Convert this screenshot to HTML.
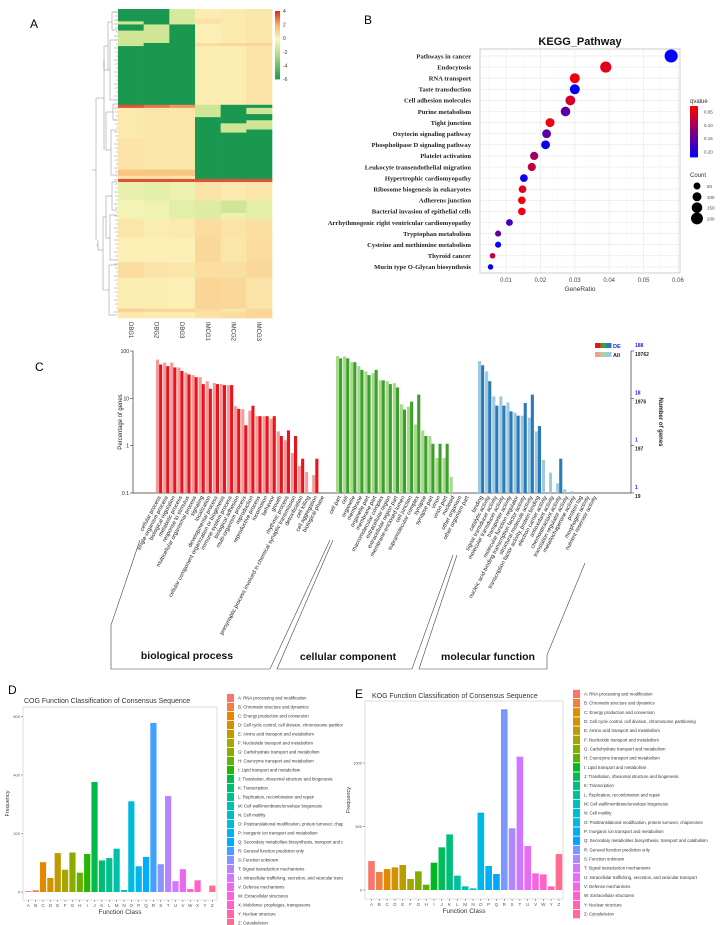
<!DOCTYPE html>
<html><head><meta charset="utf-8">
<style>
html,body{margin:0;padding:0;background:#fff;}
svg{display:block;font-family:"Liberation Sans",sans-serif;}
</style></head>
<body>
<svg id="fig" width="726" height="925" viewBox="0 0 726 925" xmlns="http://www.w3.org/2000/svg">
<rect x="0" y="0" width="726" height="925" fill="#fff"/>
<text x="30" y="28" font-size="12">A</text>
<text x="364" y="24" font-size="12">B</text>
<text x="35" y="371" font-size="12">C</text>
<text x="8" y="694" font-size="12">D</text>
<text x="355" y="698" font-size="12">E</text>
<g id="gA"></g>
<g id="gB"></g>
<g id="gC"></g>
<g id="gD"></g>
<g id="gE"></g>
<defs>
<clipPath id="clipD"><rect x="0" y="680" width="343" height="245"/></clipPath>
</defs>
</svg>
<script>
// ---------- Heatmap data (run-length segments: [value, rows]) ----------
const hmSamples = ["DBG1","DBG2","DBG3","IMCG1","IMCG2","IMCG3"];
const hmCol1 = [[-6,4],[-1.5,1],[-6,2],[-1.5,5],[-6,19],[3.5,1],[0.4,10],[0.6,10],[1.5,2],[0.5,1],[3.5,1],[-0.6,6],[-0.3,6],[0.5,6],[0.2,8],[0.8,5],[0.3,10],[1.2,1],[0.4,2]];
const hmCol2 = [[-6,5],[-1.5,6],[-6,20],[3,1],[0.5,20],[1.5,2],[0.6,1],[3.5,1],[-0.8,6],[-0.4,6],[0.3,6],[0.2,8],[0.6,5],[0.3,10],[1,1],[0.3,2]];
const hmCol3 = [[-1.2,5],[-6,26],[2.5,1],[0.5,20],[1.5,2],[0.5,1],[3.5,1],[-0.5,6],[-0.8,6],[0.4,6],[0.2,8],[0.5,5],[0.2,10],[1,1],[0.3,2]];
const hmCol4 = [[0.3,3],[0.6,2],[0.2,6],[0.8,1],[0.3,19],[-1.5,4],[-6,20],[3.5,1],[0.6,6],[-1,6],[0.8,6],[0.9,8],[0.7,5],[1,10],[0.8,1],[0.6,2]];
const hmCol5 = [[0.4,11],[0.9,1],[0.3,19],[-6,6],[-1.5,3],[-6,15],[3.5,1],[0.4,6],[-1.5,4],[-0.5,2],[0.6,6],[0.5,8],[0.7,5],[0.9,10],[0.5,1],[0.8,2]];
const hmCol6 = [[0.5,11],[1,1],[0.6,19],[-6,1],[-1.5,2],[-6,2],[-1.5,3],[-6,16],[3.5,1],[0.5,6],[-0.8,6],[0.7,6],[0.8,8],[0.9,5],[0.6,10],[0.9,1],[1,2]];
const hmScaleTicks = [4,2,0,-2,-4,-6];

// ---------- KEGG data ----------
const keggTerms = ["Pathways in cancer","Endocytosis","RNA transport","Taste transduction","Cell adhesion molecules","Purine metabolism","Tight junction","Oxytocin signaling pathway","Phospholipase D signaling pathway","Platelet activation","Leukocyte transendothelial migration","Hypertrophic cardiomyopathy","Ribosome biogenesis in eukaryotes","Adherens junction","Bacterial invasion of epithelial cells","Arrhythmogenic right ventricular cardiomyopathy","Tryptophan metabolism","Cysteine and methionine metabolism","Thyroid cancer","Mucin type O-Glycan biosynthesis"];
const keggRatio = [0.058,0.039,0.030,0.030,0.0287,0.0273,0.0228,0.0218,0.0215,0.0182,0.0175,0.0152,0.0148,0.0146,0.0146,0.011,0.0077,0.0077,0.0061,0.0055];
const keggQ = [0.22,0.05,0.04,0.22,0.06,0.15,0.04,0.15,0.21,0.10,0.08,0.21,0.05,0.04,0.04,0.17,0.15,0.21,0.07,0.22];
const keggCount = [250,170,130,130,125,120,100,95,95,80,77,67,65,64,64,48,34,34,27,24];
const keggXTicks = [0.01,0.02,0.03,0.04,0.05,0.06];
const keggQTicks = [0.05,0.10,0.15,0.20];
const keggCountTicks = [50,100,150,200];

// ---------- GO data ----------
const bpTerms = ["cellular process","single-organism process","biological regulation","metabolic process","response to stimulus","multicellular organismal process","signaling","localization","developmental process","cellular component organization or biogenesis","immune system process","biological adhesion","multi-organism process","reproduction","reproductive process","locomotion","behavior","growth","rhythmic process","presynaptic process involved in chemical synaptic transmission","detoxification","cell killing","cell aggregation","biological phase"];
const bpAll = [66,57,57,45,35,31,28,23,21,20,19,6.8,5.9,5.5,4.2,4.2,3.7,2,1.3,0.7,0.37,0.28,0.24,0];
const bpDE  = [52,48,45,38,32,28,20,16,20,19,19,6,2.7,7,4.2,4.2,4.2,1.6,2.1,1.6,0.53,0,0.53,0];
const ccTerms = ["cell part","cell","organelle","membrane","organelle part","membrane part","macromolecular complex","extracellular region","extracellular region part","membrane-enclosed lumen","cell junction","supramolecular complex","synapse","synapse part","virion","virion part","nucleoid","other organism","other organism part"];
const ccAll = [78,77,58,48,37,34,24,23,21,7.5,6.7,2.8,2.1,1.6,0.55,0.55,0.22,0,0];
const ccDE  = [70,70,58,40,31,40,24,20,17,5.8,8.5,12,1.6,1.1,1.1,1.1,0,0,0];
const mfTerms = ["binding","catalytic activity","signal transducer activity","molecular transducer activity","transporter activity","molecular function regulator","nucleic acid binding transcription factor activity","structural molecule activity","transcription factor activity, protein binding","electron carrier activity","antioxidant activity","chemoattractant activity","translation regulator activity","metallochaperone activity","protein tag","morphogen activity","nutrient reservoir activity"];
const mfAll = [61,37,11,11,8.2,5,4.3,3.9,2,0.5,0.27,0.16,0.12,0.11,0,0,0];
const mfDE  = [50,23,7,7,5.3,4.3,8,12,2.6,0,0,0.53,0,0,0,0,0];
const goLeftTicks = [100,10,1,0.1];
const goRightDE = ["188","18","1","1"];
const goRightAll = ["19762","1976","197","19"];

// ---------- COG data ----------
const cogClasses = ["A","B","C","D","E","F","G","H","I","J","K","L","M","N","O","P","Q","R","S","T","U","V","W","X","Y","Z"];
const cogFreq = [3,6,102,48,133,76,135,66,130,376,108,116,148,7,310,88,120,578,95,328,37,78,10,40,0,22];
const cogTicks = [0,200,400,600];
const cogDesc = ["A: RNA processing and modification","B: Chromatin structure and dynamics","C: Energy production and conversion","D: Cell cycle control, cell division, chromosome partitioning","E: Amino acid transport and metabolism","F: Nucleotide transport and metabolism","G: Carbohydrate transport and metabolism","H: Coenzyme transport and metabolism","I: Lipid transport and metabolism","J: Translation, ribosomal structure and biogenesis","K: Transcription","L: Replication, recombination and repair","M: Cell wall/membrane/envelope biogenesis","N: Cell motility","O: Posttranslational modification, protein turnover, chaperones","P: Inorganic ion transport and metabolism","Q: Secondary metabolites biosynthesis, transport and catabolism","R: General function prediction only","S: Function unknown","T: Signal transduction mechanisms","U: Intracellular trafficking, secretion, and vesicular transport","V: Defense mechanisms","W: Extracellular structures","X: Mobilome: prophages, transposons","Y: Nuclear structure","Z: Cytoskeleton"];

// ---------- KOG data ----------
const kogClasses = ["A","B","C","D","E","F","G","H","I","J","K","L","M","N","O","P","Q","R","S","T","U","V","W","Y","Z"];
const kogFreq = [228,142,165,178,197,87,147,42,215,336,438,113,29,13,609,189,126,1423,486,1050,346,131,123,29,283];
const kogTicks = [0,500,1000];
const kogDesc = ["A: RNA processing and modification","B: Chromatin structure and dynamics","C: Energy production and conversion","D: Cell cycle control, cell division, chromosome partitioning","E: Amino acid transport and metabolism","F: Nucleotide transport and metabolism","G: Carbohydrate transport and metabolism","H: Coenzyme transport and metabolism","I: Lipid transport and metabolism","J: Translation, ribosomal structure and biogenesis","K: Transcription","L: Replication, recombination and repair","M: Cell wall/membrane/envelope biogenesis","N: Cell motility","O: Posttranslational modification, protein turnover, chaperones","P: Inorganic ion transport and metabolism","Q: Secondary metabolites biosynthesis, transport and catabolism","R: General function prediction only","S: Function unknown","T: Signal transduction mechanisms","U: Intracellular trafficking, secretion, and vesicular transport","V: Defense mechanisms","W: Extracellular structures","Y: Nuclear structure","Z: Cytoskeleton"];

const NS = "http://www.w3.org/2000/svg";
function mk(parent, tag, attrs, txt){
  const e = document.createElementNS(NS, tag);
  for (const k in attrs) e.setAttribute(k, attrs[k]);
  if (txt !== undefined) e.textContent = txt;
  parent.appendChild(e);
  return e;
}
function lerp(a,b,t){return a+(b-a)*t;}

// ================= Panel A: heatmap =================
(function(){
  const g = document.getElementById("gA");
  const x0 = 118, x1 = 272, y0 = 9, y1 = 318, nRows = 100;
  const colW = (x1-x0)/6, rowH = (y1-y0)/nRows;
  const stops = [[-6,[26,152,80]],[-2,[190,225,135]],[0,[252,246,190]],[2,[248,180,110]],[4,[215,48,39]]];
  function cmap(v){
    if (v<=stops[0][0]) return "rgb("+stops[0][1].join(",")+")";
    for (let i=0;i<stops.length-1;i++){
      const a=stops[i], b=stops[i+1];
      if (v<=b[0]){ const t=(v-a[0])/(b[0]-a[0]);
        return "rgb("+a[1].map((c,j)=>Math.round(lerp(c,b[1][j],t))).join(",")+")"; }
    }
    return "rgb("+stops[stops.length-1][1].join(",")+")";
  }
  const cols = [hmCol1,hmCol2,hmCol3,hmCol4,hmCol5,hmCol6];
  cols.forEach((segs,ci)=>{
    let r = 0;
    segs.forEach(s=>{
      const rc = mk(g,"rect",{x:x0+ci*colW,y:y0+r*rowH,width:colW+0.3,height:s[1]*rowH+0.3,fill:cmap(s[0])});
      
      
      r += s[1];
    });
    const t = mk(g,"text",{x:0,y:0,"font-size":6,fill:"#333",transform:"translate("+(x0+ci*colW+colW/2-2)+",322) rotate(90)"},hmSamples[ci]);
    
    
  });
  const cb0=11, cb1=79;
  for (let i=0;i<40;i++){
    const v = 4 - (10*i/40);
    mk(g,"rect",{x:275,y:cb0+(cb1-cb0)*i/40,width:5,height:(cb1-cb0)/40+0.4,fill:cmap(v)});
  }
  hmScaleTicks.forEach(v=>{
    const y = cb0 + (4-v)/10*(cb1-cb0);
    const t = mk(g,"text",{x:283,y:y+2,"font-size":5,fill:"#333"},String(v));
    
    
  });
  const st = {stroke:"#888","stroke-width":0.5,fill:"none"};
  const d = "M117,12H112V30H117 M117,20H114 M112,22H108V70 M117,40H110V100H117 M110,70H104V60 M117,104H113V120H117 M117,130H111V175H117 M113,112H106V150H111 M108,46H104 M104,46V150 M104,98H96V240 M117,182H112V210H117 M117,215H110V260H117 M117,265H109V315H117 M112,196H106V238H110 M109,290H103V217H106 M103,250H98V240 M96,170H92 M98,245H96";
  mk(g,"path",Object.assign({d:d},st));
  for (let y=12;y<316;y+=4) mk(g,"line",Object.assign({x1:114+((y*7)%3),x2:118,y1:y,y2:y},st));
})();

// ================= Panel B: KEGG =================
(function(){
  const g = document.getElementById("gB");
  const px0=480, px1=680, py0=49, py1=273;
  const xs = v => 506 + (v-0.01)*3440;
  const ys = i => 56 + i*11.1;
  mk(g,"rect",{x:px0,y:py0,width:px1-px0,height:py1-py0,fill:"#fff",stroke:"#aaa","stroke-width":0.6});
  keggXTicks.forEach(v=>{
    mk(g,"line",{x1:xs(v),x2:xs(v),y1:py0,y2:py1,stroke:"#e6e6e6","stroke-width":0.6});
    mk(g,"line",{x1:xs(v-0.005),x2:xs(v-0.005),y1:py0,y2:py1,stroke:"#f2f2f2","stroke-width":0.4});
    const t = mk(g,"text",{x:xs(v),y:py1+9,"font-size":6,"text-anchor":"middle",fill:"#444"},v.toFixed(2));
    
    
  });
  keggTerms.forEach((name,i)=>{
    mk(g,"line",{x1:px0,x2:px1,y1:ys(i),y2:ys(i),stroke:"#e6e6e6","stroke-width":0.6});
    const t = mk(g,"text",{x:471,y:ys(i)+2.3,"font-size":6.6,"text-anchor":"end","font-weight":"bold","font-family":"Liberation Serif, serif",fill:"#222"},name);
    
    
  });
  const qcol = q => { const t=Math.max(0,Math.min(1,(q-0.03)/0.19)); return "rgb("+Math.round(255*(1-t))+",0,"+Math.round(255*t)+")"; };
  const rad = c => 1 + Math.sqrt(c)*0.35;
  keggTerms.forEach((name,i)=>{
    const c = mk(g,"circle",{cx:xs(keggRatio[i]),cy:ys(i),r:rad(keggCount[i]),fill:qcol(keggQ[i])});
    
    
  });
  const title = mk(g,"text",{x:580,y:45,"font-size":11,"font-weight":"bold","text-anchor":"middle",fill:"#111"},"KEGG_Pathway");
  
  
  const xl = mk(g,"text",{x:580,y:291,"font-size":6.5,"text-anchor":"middle",fill:"#333"},"GeneRatio");
  
  
  const lq = mk(g,"text",{x:690,y:103,"font-size":6,fill:"#333"},"qvalue");
  
  
  for (let i=0;i<30;i++){
    const q = 0.03 + 0.19*i/30;
    mk(g,"rect",{x:690,y:106+51*i/30,width:8,height:51/30+0.4,fill:qcol(q)});
  }
  keggQTicks.forEach(q=>{
    const y = 106 + (q-0.03)/0.19*51;
    const t = mk(g,"text",{x:704,y:y+2,"font-size":4.5,fill:"#444"},q.toFixed(2));
    
    
  });
  const lc = mk(g,"text",{x:690,y:177,"font-size":6,fill:"#333"},"Count");
  
  
  keggCountTicks.forEach((c,i)=>{
    const y = 186 + i*10.8;
    mk(g,"circle",{cx:697,cy:y,r:rad(c),fill:"#000"});
    const t = mk(g,"text",{x:707,y:y+2,"font-size":4.5,fill:"#444"},String(c));
    
    
  });
})();

// ================= Panel C: GO =================
(function(){
  const g = document.getElementById("gC");
  const yb = 493, dec = 47.33;
  const ys = v => yb - (Math.log10(v)+1)*dec;
  const pitch = 7.1, bw = 3.1;
  mk(g,"line",{x1:133,x2:133,y1:351,y2:yb,stroke:"#333","stroke-width":0.7});
  mk(g,"line",{x1:133,x2:631,y1:yb,y2:yb,stroke:"#333","stroke-width":0.7});
  mk(g,"line",{x1:631,x2:631,y1:351,y2:yb,stroke:"#333","stroke-width":0.7});
  goLeftTicks.forEach(v=>{
    const y = ys(v);
    mk(g,"line",{x1:130,x2:133,y1:y,y2:y,stroke:"#333","stroke-width":0.6});
    const t = mk(g,"text",{x:129,y:y+2,"font-size":5,"text-anchor":"end",fill:"#222"},String(v));
    
    
  });
  goRightDE.forEach((s,i)=>{
    const y = ys(goLeftTicks[i]);
    mk(g,"line",{x1:631,x2:634,y1:y,y2:y,stroke:"#333","stroke-width":0.6});
    const a = mk(g,"text",{x:635,y:y-4,"font-size":5,fill:"#2222ee","font-weight":"bold"},s);
    
    
    const b = mk(g,"text",{x:635,y:y+5,"font-size":5,fill:"#222","font-weight":"bold"},goRightAll[i]);
    
    
  });
  const ylt = mk(g,"text",{x:0,y:0,"font-size":6,"text-anchor":"middle",fill:"#222",transform:"translate(122,422) rotate(-90)"},"Percentage of genes");
  
  
  const yrt = mk(g,"text",{x:0,y:0,"font-size":6,"text-anchor":"middle","font-weight":"bold",fill:"#222",transform:"translate(659,422) rotate(90)"},"Number of genes");
  
  
  const deC = ["#e8141c","#3da02c","#2a7ab8"], allC = ["#f59a9a","#a6d98a","#9ecae1"];
  deC.forEach((c,i)=>mk(g,"rect",{x:595+i*5.5,y:343,width:5.5,height:5,fill:c}));
  allC.forEach((c,i)=>mk(g,"rect",{x:595+i*5.5,y:352,width:5.5,height:5,fill:c}));
  const ld = mk(g,"text",{x:613,y:348,"font-size":5.5,fill:"#2222ee","font-weight":"bold"},"DE");
  
  
  const la = mk(g,"text",{x:613,y:357,"font-size":5.5,fill:"#222","font-weight":"bold"},"All");
  
  
  const groups = [[bpTerms,bpAll,bpDE,156,0],[ccTerms,ccAll,ccDE,336,1],[mfTerms,mfAll,mfDE,478,2]];
  groups.forEach(([terms,all,de,x0,gi])=>{
    terms.forEach((term,i)=>{
      const x = x0 + i*pitch;
      if (all[i] > 0.1){
        const r = mk(g,"rect",{x:x,y:ys(all[i]),width:bw,height:yb-ys(all[i]),fill:allC[gi]});
        
        
      }
      if (de[i] > 0.1){
        const r = mk(g,"rect",{x:x+bw,y:ys(de[i]),width:bw,height:yb-ys(de[i]),fill:deC[gi]});
        
        
      }
      const t = mk(g,"text",{x:0,y:0,"font-size":5.6,"text-anchor":"end",fill:"#222",transform:"translate("+(x+bw+2)+",497) rotate(-62)"},term);
      
      
    });
  });
  const bst = {fill:"none",stroke:"#444","stroke-width":0.6};
  mk(g,"path",Object.assign({d:"M140,540L111,625V669H270L330,540"},bst));
  mk(g,"path",Object.assign({d:"M333,540L277,669H412L453,555"},bst));
  mk(g,"path",Object.assign({d:"M457,555L419,669H547V655L585,563"},bst));
  const t1 = mk(g,"text",{x:187,y:659,"font-size":10.5,"font-weight":"bold","text-anchor":"middle",fill:"#111"},"biological process");
  
  
  const t2 = mk(g,"text",{x:348,y:660,"font-size":10.5,"font-weight":"bold","text-anchor":"middle",fill:"#111"},"cellular component");
  
  
  const t3 = mk(g,"text",{x:488,y:660,"font-size":10.5,"font-weight":"bold","text-anchor":"middle",fill:"#111"},"molecular function");
  
  
})();

// ---------- ggplot hue palette (polar CIE Luv) ----------
function hcl2rgb(h,c,l){
  const hr = h*Math.PI/180, U = c*Math.cos(hr), V = c*Math.sin(hr);
  const un = 0.19784, vn = 0.46834;
  const Y = l > 8 ? Math.pow((l+16)/116,3) : l/903.3;
  const up = U/(13*l) + un, vp = V/(13*l) + vn;
  const X = Y*9*up/(4*vp), Z = Y*(12-3*up-20*vp)/(4*vp);
  let r = 3.2406*X - 1.5372*Y - 0.4986*Z, g = -0.9689*X + 1.8758*Y + 0.0415*Z, b = 0.0557*X - 0.2040*Y + 1.0570*Z;
  const gm = u => { u = u<=0.0031308 ? 12.92*u : 1.055*Math.pow(u,1/2.4)-0.055; return Math.round(255*Math.max(0,Math.min(1,u))); };
  return "rgb("+gm(r)+","+gm(g)+","+gm(b)+")";
}
function hues(n){ const out=[]; for(let i=0;i<n;i++) out.push(hcl2rgb(15+360*i/n,100,65)); return out; }

function barPanel(g, cfg){
  const {classes,freq,ticks,desc,fx0,fx1,fy0,fy1,base,scale,cx0,pitch,bw,legX,legY0,legStep,title,titleX,titleY,yTitleX} = cfg;
  const cols = hues(classes.length);
  mk(g,"rect",{x:fx0,y:fy0,width:fx1-fx0,height:fy1-fy0,fill:"#fff",stroke:"#d0d0d0","stroke-width":0.7});
  const ys = v => base - v*scale;
  ticks.forEach(v=>{
    mk(g,"line",{x1:fx0-2,x2:fx0,y1:ys(v),y2:ys(v),stroke:"#555","stroke-width":0.5});
    const t = mk(g,"text",{x:fx0-3,y:ys(v)+1.5,"font-size":4,"text-anchor":"end",fill:"#555"},String(v));
    
    
  });
  classes.forEach((c,i)=>{
    const cx = cx0 + i*pitch;
    if (freq[i] > 0){
      const r = mk(g,"rect",{x:cx-bw/2,y:ys(freq[i]),width:bw,height:freq[i]*scale,fill:cols[i]});
      
      
    }
    mk(g,"line",{x1:cx,x2:cx,y1:fy1,y2:fy1+2,stroke:"#555","stroke-width":0.5});
    const t = mk(g,"text",{x:cx,y:fy1+7,"font-size":4.6,"text-anchor":"middle",fill:"#555"},c);
    
    
    const ly = legY0 + i*legStep;
    const sq = mk(g,"rect",{x:legX,y:ly-legStep/2+0.4,width:7,height:legStep-0.8,fill:cols[i]});
    
    
    const lt = mk(g,"text",{x:legX+11,y:ly+1.5,"font-size":4.3,fill:"#333"},desc[i]);
    
    
  });
  const xt = mk(g,"text",{x:(fx0+fx1)/2,y:fy1+14,"font-size":6.5,"text-anchor":"middle",fill:"#333"},"Function Class");
  
  
  const yt = mk(g,"text",{x:0,y:0,"font-size":5.5,"text-anchor":"middle",fill:"#333",transform:"translate("+yTitleX+","+((fy0+fy1)/2)+") rotate(-90)"},"Frequency");
  
  
  const tt = mk(g,"text",{x:titleX,y:titleY,"font-size":7,fill:"#333"},title);
  
  
}

// ================= Panel D: COG =================
(function(){
  const g = document.getElementById("gD");
  g.setAttribute("clip-path","url(#clipD)");
  barPanel(g,{classes:cogClasses,freq:cogFreq,ticks:cogTicks,desc:cogDesc,fx0:23,fx1:217,fy0:707,fy1:900,base:892,scale:0.2925,cx0:28.3,pitch:7.36,bw:6.2,legX:227,legY0:698,legStep:9.0,title:"COG Function Classification of Consensus Sequence",titleX:24,titleY:703,yTitleX:9});
})();

// ================= Panel E: KOG =================
(function(){
  const g = document.getElementById("gE");
  barPanel(g,{classes:kogClasses,freq:kogFreq,ticks:kogTicks,desc:kogDesc,fx0:365,fx1:563,fy0:701,fy1:899,base:890,scale:0.127,cx0:371.5,pitch:7.81,bw:6.6,legX:573,legY0:694,legStep:9.17,title:"KOG Function Classification of Consensus Sequence",titleX:372,titleY:698,yTitleX:350});
})();
</script>
</body></html>
